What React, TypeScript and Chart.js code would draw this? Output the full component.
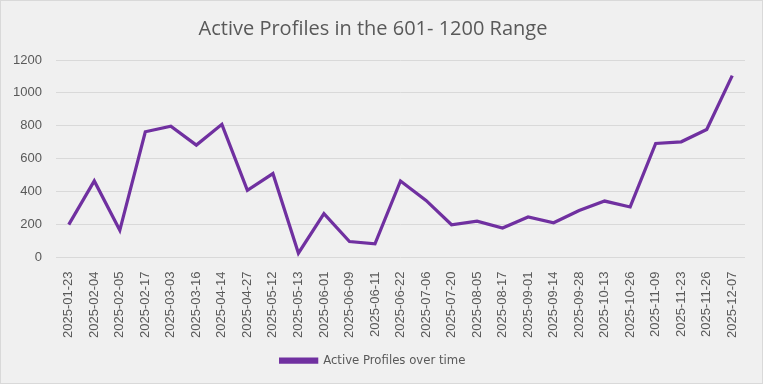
import React, { useEffect, useRef } from "react";
import { Chart, registerables } from "chart.js";

Chart.register(...registerables);

const categories: string[] = [
  "2025-01-23", "2025-02-04", "2025-02-05", "2025-02-17", "2025-03-03", "2025-03-16",
  "2025-04-14", "2025-04-27", "2025-05-12", "2025-05-13", "2025-06-01", "2025-06-09",
  "2025-06-11", "2025-06-22", "2025-07-06", "2025-07-20", "2025-08-05", "2025-08-17",
  "2025-09-01", "2025-09-14", "2025-09-28", "2025-10-13", "2025-10-26", "2025-11-09",
  "2025-11-23", "2025-11-26", "2025-12-07",
];

const activeProfiles: number[] = [
  200, 465, 165, 764, 798, 683, 809, 408, 510, 26, 266, 97, 83, 465, 347, 199, 221, 179,
  246, 211, 286, 343, 307, 693, 703, 778, 1105,
];

const seriesLabel = "Active Profiles over time";
const titleText = "Active Profiles in the 601- 1200 Range";
const yTicks: number[] = [0, 200, 400, 600, 800, 1000, 1200];

export default function App() {
  const canvasRef = useRef<HTMLCanvasElement | null>(null);

  useEffect(() => {
    document.body.style.margin = "0";
    const canvas = canvasRef.current;
    if (!canvas) return;
    const text = "#595959";
    const chart = new Chart(canvas, {
      type: "line",
      data: {
        labels: categories,
        datasets: [
          {
            label: seriesLabel,
            data: activeProfiles,
            borderColor: "#7030A0",
            backgroundColor: "#7030A0",
            borderWidth: 3.25,
            pointRadius: 0,
            pointHoverRadius: 0,
            tension: 0,
            borderJoinStyle: "miter",
          },
        ],
      },
      options: {
        animation: false,
        responsive: true,
        maintainAspectRatio: false,
        layout: { padding: { left: 0, right: 17, top: 0, bottom: 6 } },
        plugins: {
          title: {
            display: true,
            text: titleText,
            color: text,
            font: { family: "'Open Sans', 'Noto Sans', sans-serif", size: 20, weight: "normal" },
            padding: { top: 16, bottom: 19 },
          },
          legend: {
            display: true,
            position: "bottom",
            labels: {
              color: text,
              boxWidth: 36,
              boxHeight: 3,
              padding: 10,
              font: { family: "'Liberation Sans Narrow', 'DejaVu Sans Condensed', sans-serif", size: 13 },
            },
          },
          tooltip: { enabled: false },
        },
        scales: {
          x: {
            offset: true,
            grid: { display: false },
            border: { display: false },
            ticks: {
              color: text,
              minRotation: 90,
              maxRotation: 90,
              autoSkip: false,
              padding: 6,
              font: { family: "'Liberation Sans', Arial, sans-serif", size: 13 },
            },
          },
          y: {
            min: 0,
            max: 1200,
            afterBuildTicks: (scale: any) => {
              scale.ticks = yTicks.map((v) => ({ value: v }));
            },
            afterFit: (scale: any) => {
              scale.width = 55;
            },
            grid: { color: "#d9d9d9", lineWidth: 1, drawTicks: false },
            border: { display: false },
            ticks: {
              color: text,
              padding: 14,
              callback: (value: any) => String(value),
              font: { family: "'Liberation Sans', Arial, sans-serif", size: 13 },
            },
          },
        },
      },
    });
    return () => chart.destroy();
  }, []);

  return (
    <div
      style={{
        width: 763,
        height: 384,
        boxSizing: "border-box",
        background: "#f0f0f0",
        border: "1px solid #d9d9d9",
        position: "relative",
      }}
    >
      <canvas ref={canvasRef} />
    </div>
  );
}
